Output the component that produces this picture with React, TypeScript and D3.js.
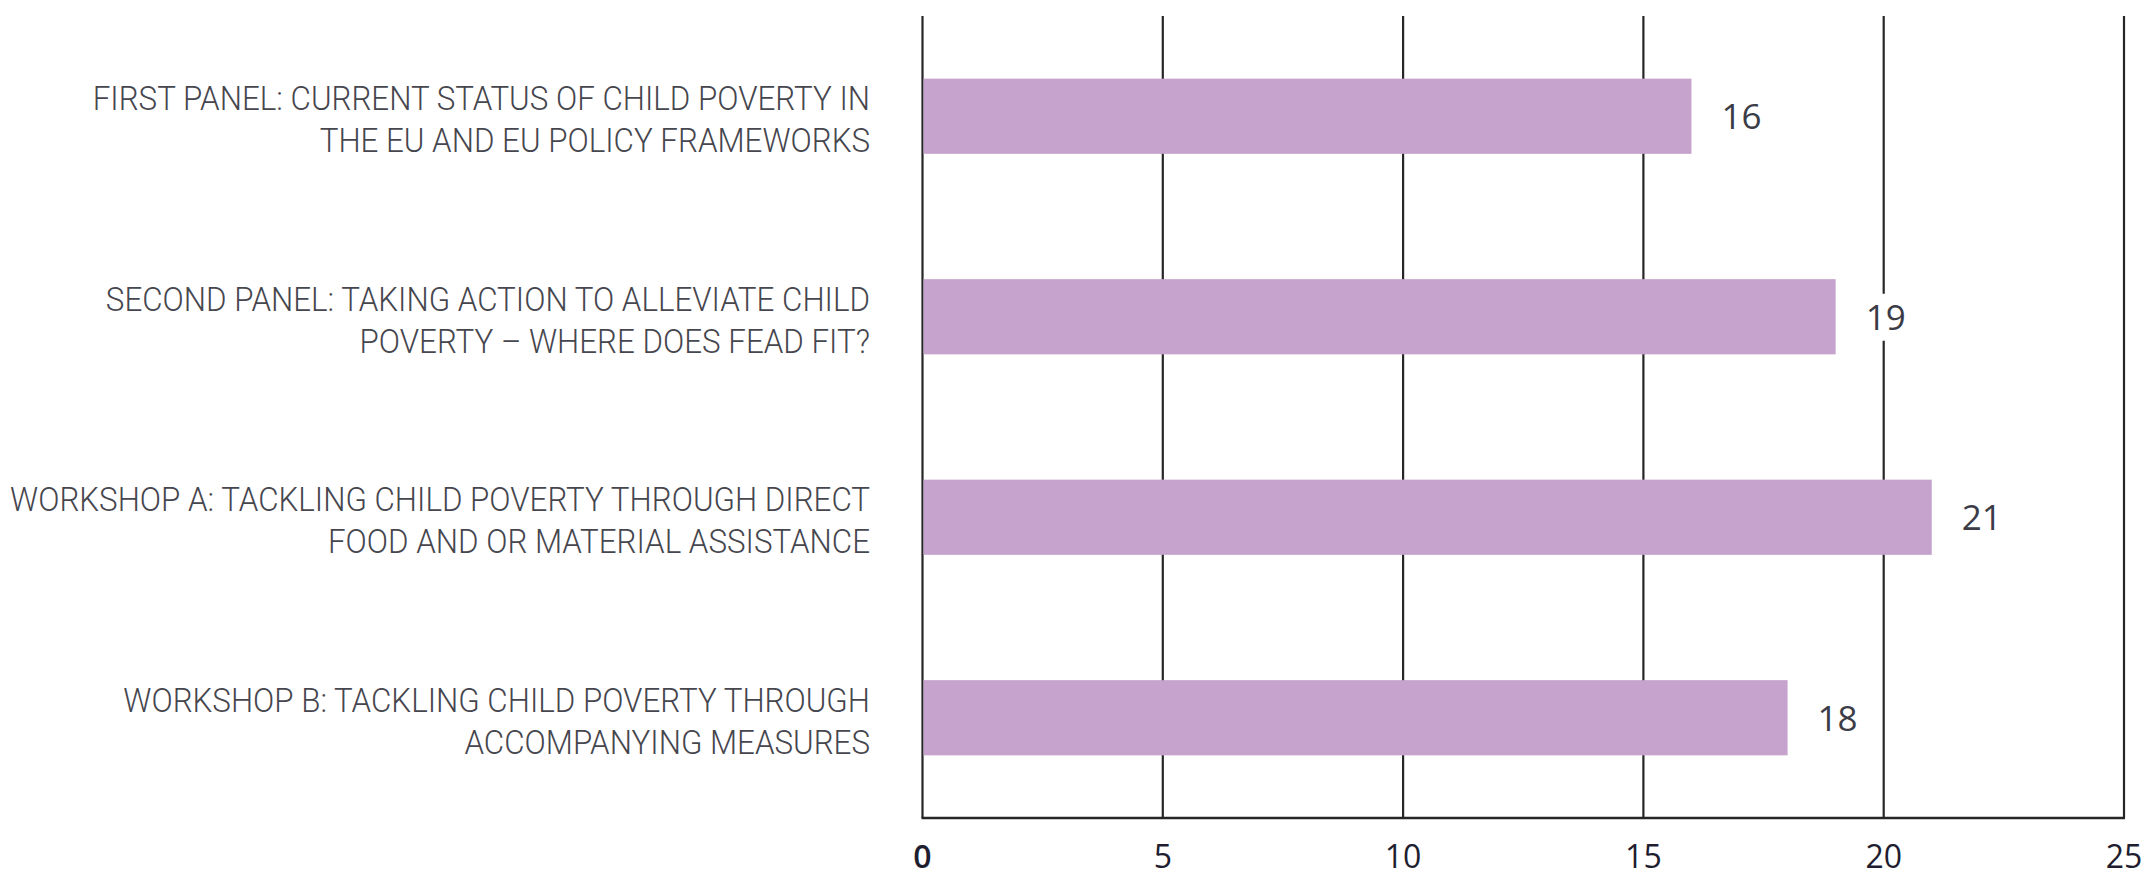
// Session feedback chart: horizontal bars drawn with D3
import React, { useEffect } from 'react';
import * as d3 from 'd3';

const categories = [
  ['FIRST PANEL: CURRENT STATUS OF CHILD POVERTY IN', 'THE EU AND EU POLICY FRAMEWORKS'],
  ['SECOND PANEL: TAKING ACTION TO ALLEVIATE CHILD', 'POVERTY \u2013 WHERE DOES FEAD FIT?'],
  ['WORKSHOP A: TACKLING CHILD POVERTY THROUGH DIRECT', 'FOOD AND OR MATERIAL ASSISTANCE'],
  ['WORKSHOP B: TACKLING CHILD POVERTY THROUGH', 'ACCOMPANYING MEASURES'],
];
const values = [16, 19, 21, 18];
const xTicks = [0, 5, 10, 15, 20, 25];

const W = 2147;
const H = 876;

const App = () => {
  const svgRef = React.useRef<SVGSVGElement>(null);

  useEffect(() => {
    if (!svgRef.current) return;
    const svg = d3.select(svgRef.current);
    svg.selectAll('*').remove();

    const margin = { top: 16, right: 23, bottom: 58, left: 922.5 };
    const plotBottom = H - margin.bottom;
    const labelRight = 870;

    const x = d3.scaleLinear().domain([0, 25]).range([margin.left, W - margin.right]);
    const y = d3.scaleBand<number>()
      .domain(d3.range(categories.length))
      .range([margin.top, plotBottom])
      .paddingInner(0.625)
      .paddingOuter(0.3125);

    // grid lines
    svg.append('g')
      .selectAll('line')
      .data(xTicks)
      .enter()
      .append('line')
      .attr('x1', d => x(d))
      .attr('x2', d => x(d))
      .attr('y1', margin.top)
      .attr('y2', plotBottom)
      .attr('stroke', '#262626')
      .attr('stroke-width', 2.2);

    // bars
    svg.append('g')
      .selectAll('rect')
      .data(values)
      .enter()
      .append('rect')
      .attr('x', x(0) + 1)
      .attr('y', (_, i) => y(i) || 0)
      .attr('width', d => x(d) - x(0) - 1)
      .attr('height', y.bandwidth())
      .attr('fill', '#c5a3cc');

    // bottom axis line
    svg.append('line')
      .attr('x1', x(0) - 1)
      .attr('x2', x(25) + 1)
      .attr('y1', plotBottom)
      .attr('y2', plotBottom)
      .attr('stroke', '#262626')
      .attr('stroke-width', 2.6);

    // tick labels
    svg.append('g')
      .selectAll('text')
      .data(xTicks)
      .enter()
      .append('text')
      .attr('x', d => x(d))
      .attr('y', 868)
      .attr('text-anchor', 'middle')
      .attr('font-family', '"Open Sans", "Noto Sans", sans-serif')
      .attr('font-size', 32)
      .attr('font-weight', d => (d === 0 ? 600 : 400))
      .attr('fill', '#1e1e30')
      .text(d => d);

    // category labels, slightly condensed
    const labels = svg.append('g')
      .attr('transform', `translate(${labelRight},0) scale(0.95,1)`)
      .selectAll('text')
      .data(categories)
      .enter()
      .append('text')
      .attr('text-anchor', 'end')
      .attr('font-family', 'Roboto, "Noto Sans", sans-serif')
      .attr('font-size', 33)
      .attr('font-weight', 300)
      .attr('fill', '#46464e');
    labels.each(function (lines, i) {
      const c = (y(i) || 0) + y.bandwidth() / 2;
      d3.select(this)
        .selectAll('tspan')
        .data(lines)
        .enter()
        .append('tspan')
        .attr('x', 0)
        .attr('y', (_, j) => c - 6 + j * 42)
        .text(d => d);
    });

    // value labels with white backing
    const vals = svg.append('g')
      .selectAll('g')
      .data(values)
      .enter()
      .append('g');
    vals.append('rect')
      .attr('x', d => x(d) + 24)
      .attr('y', (_, i) => (y(i) || 0) + y.bandwidth() / 2 - 23)
      .attr('width', 50)
      .attr('height', 47)
      .attr('fill', '#ffffff');
    vals.append('text')
      .attr('x', d => x(d) + 30)
      .attr('y', (_, i) => (y(i) || 0) + y.bandwidth() / 2 + 13)
      .attr('font-family', '"Open Sans", "Noto Sans", sans-serif')
      .attr('font-size', 35)
      .attr('font-weight', 500)
      .attr('fill', '#3c3c47')
      .text(d => d);
  }, []);

  return (
    <svg
      ref={svgRef}
      width={W}
      height={H}
      style={{ position: 'absolute', left: 0, top: 0, background: '#ffffff' }}
    />
  );
};

export default App;
